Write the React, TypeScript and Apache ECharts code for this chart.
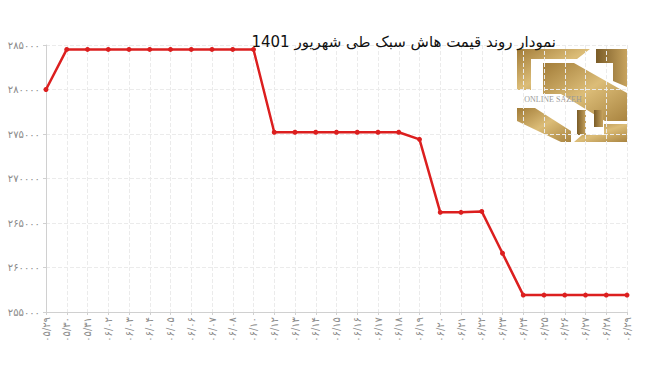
import React, { useEffect, useRef } from "react";
import * as echarts from "echarts";

const titleText = "نمودار روند قیمت هاش سبک طی شهریور 1401";

const dates = [
  "۰۵/۲۹", "۰۵/۳۰", "۰۵/۳۱", "۰۶/۰۲", "۰۶/۰۳", "۰۶/۰۴", "۰۶/۰۵", "۰۶/۰۶", "۰۶/۰۷", "۰۶/۰۸",
  "۰۶/۱۰", "۰۶/۱۲", "۰۶/۱۳", "۰۶/۱۴", "۰۶/۱۵", "۰۶/۱۶", "۰۶/۱۷", "۰۶/۱۸", "۰۶/۱۹", "۰۶/۲۰",
  "۰۶/۲۱", "۰۶/۲۲", "۰۶/۲۳", "۰۶/۲۴", "۰۶/۲۵", "۰۶/۲۶", "۰۶/۲۷", "۰۶/۲۸", "۰۶/۲۹",
];

const prices = [
  280000, 284500, 284500, 284500, 284500, 284500, 284500, 284500, 284500, 284500,
  284500, 275200, 275200, 275200, 275200, 275200, 275200, 275200, 274400, 266200,
  266200, 266300, 261600, 256900, 256900, 256900, 256900, 256900, 256900,
];

const yMin = 255000;
const yMax = 285000;
const yStep = 5000;

const faDigits = "۰۱۲۳۴۵۶۷۸۹";
const toFa = (v: number | string) => String(v).replace(/[0-9]/g, (d) => faDigits[Number(d)]);

export default function App() {
  const ref = useRef<HTMLDivElement>(null);
  useEffect(() => {
    document.body.style.margin = "0";
    const chart = echarts.init(ref.current!, undefined, { renderer: "svg" });
    const gold = () =>
      new echarts.graphic.LinearGradient(0, 0, 1, 1, [
        { offset: 0, color: "#a27c38" },
        { offset: 0.5, color: "#dcbd78" },
        { offset: 1, color: "#a98440" },
      ]);
    const goldDark = () =>
      new echarts.graphic.LinearGradient(0, 0, 1, 0, [
        { offset: 0, color: "#7a5c28" },
        { offset: 1, color: "#c7a35e" },
      ]);
    const poly = (pts: number[][], fill: any) => ({ type: "polygon", shape: { points: pts }, style: { fill } });
    chart.setOption({
      animation: false,
      backgroundColor: "#ffffff",
      grid: { left: 46, right: 30, top: 45, bottom: 57, containLabel: false },
      xAxis: {
        type: "category",
        data: dates,
        boundaryGap: false,
        axisLine: { lineStyle: { color: "#d0d0d0" } },
        axisTick: { show: true, length: 3, lineStyle: { color: "#d0d0d0" } },
        axisLabel: {
          rotate: 90,
          interval: 0,
          fontSize: 10,
          color: "#8a8a8a",
          margin: 5,
          fontFamily: "DejaVu Sans",
        },
        splitLine: { show: true, lineStyle: { color: "#ebebeb", type: "dashed" } },
      },
      yAxis: {
        type: "value",
        min: yMin,
        max: yMax,
        interval: yStep,
        axisLine: { show: true, lineStyle: { color: "#d0d0d0" } },
        axisTick: { show: true, length: 3, lineStyle: { color: "#d0d0d0" } },
        axisLabel: {
          fontSize: 10,
          color: "#8a8a8a",
          margin: 6,
          fontFamily: "DejaVu Sans",
          formatter: (v: number) => toFa(v),
        },
        splitLine: { show: true, lineStyle: { color: "#ebebeb", type: "dashed" } },
      },
      series: [
        {
          type: "line",
          data: prices,
          symbol: "circle",
          symbolSize: 5,
          lineStyle: { color: "#dc1f1f", width: 2.5 },
          itemStyle: { color: "#dc1f1f" },
        },
      ],
      graphic: [
        {
          type: "group",
          z: 10,
          children: [
            poly([[517, 49], [590, 49], [577, 59], [531, 59], [531, 90], [517, 90]], gold()),
            poly([[596, 49], [627, 49], [627, 87], [613, 81], [613, 63], [596, 63]], goldDark()),
            poly([[543, 63], [574, 63], [627, 93], [627, 121], [605, 121], [561, 94], [543, 94]], gold()),
            poly([[517, 108], [535, 108], [571, 131], [571, 142], [561, 142], [517, 121]], gold()),
            poly([[577, 110], [586, 110], [586, 135], [577, 135]], goldDark()),
            poly([[594, 110], [603, 110], [603, 127], [594, 127]], goldDark()),
            poly([[604, 124], [627, 124], [627, 142], [574, 142], [582, 135], [604, 135]], gold()),
            {
              type: "text",
              x: 553,
              y: 99,
              style: {
                text: "ONLINE SAZEH",
                fill: "#9a9a9a",
                font: "8px 'Liberation Serif'",
                align: "center",
                verticalAlign: "middle",
              },
            },
          ],
        },
        {
          type: "text",
          x: 556,
          y: 42,
          z: 20,
          style: {
            text: titleText,
            fill: "#111111",
            font: "15px 'DejaVu Sans'",
            align: "right",
            verticalAlign: "middle",
          },
        },
      ],
    });
    return () => chart.dispose();
  }, []);
  return <div ref={ref} style={{ width: 657, height: 369 }} />;
}
